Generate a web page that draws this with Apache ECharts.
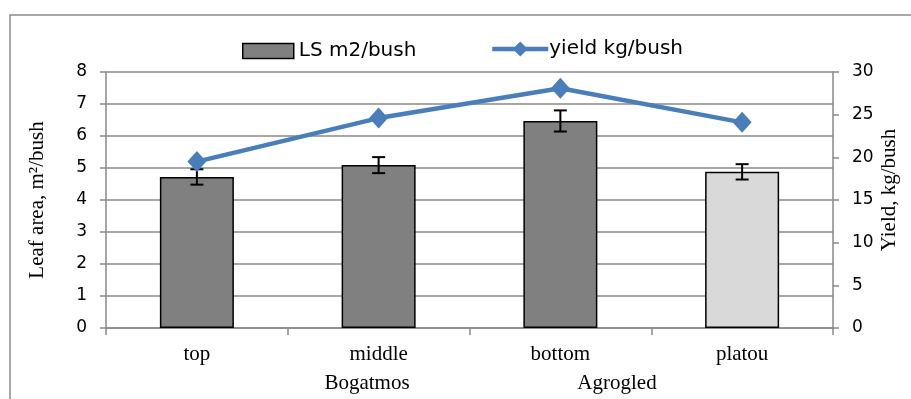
<!DOCTYPE html>
<html>
<head>
<meta charset="utf-8">
<script src="https://cdn.jsdelivr.net/npm/echarts@6/dist/echarts.min.js"></script>
<style>
  html, body { margin: 0; padding: 0; background: #fff; }
  #chart { width: 911px; height: 399px; }
</style>
</head>
<body>
<div id="chart"></div>
<script>
// Leaf area per bush (bars, left axis) and yield per bush (line, right axis)
const categories = ['top', 'middle', 'bottom', 'platou'];
const leafArea = [4.72, 5.09, 6.47, 4.88];
const leafAreaErr = [0.24, 0.25, 0.33, 0.24];
const yieldKg = [19.5, 24.6, 28.1, 24.1];
const barColors = ['#808080', '#808080', '#808080', '#d9d9d9'];
const leftTicks = { min: 0, max: 8, interval: 1 };
const rightTicks = { min: 0, max: 30, interval: 5 };

const sansFont = 'DejaVu Sans';
const serifFont = 'Liberation Serif';
const gridGray = '#898989';
const lineBlue = '#4a7ebb';

const chart = echarts.init(document.getElementById('chart'));

const barData = leafArea.map((v, i) => ({
  value: v,
  itemStyle: { color: barColors[i] }
}));

const errData = leafArea.map((v, i) => [i, v - leafAreaErr[i], v + leafAreaErr[i]]);

chart.setOption({
  animation: false,
  backgroundColor: '#fff',
  grid: { left: 106, right: 78, top: 72, bottom: 71, containLabel: false },
  legend: [
    {
      data: [{ name: 'LS m2/bush', icon: 'rect' }],
      left: 242, top: 41, padding: 0,
      itemWidth: 51, itemHeight: 15,
      itemStyle: { borderColor: '#000', borderWidth: 1.5 },
      textStyle: { fontFamily: sansFont, fontSize: 20, color: '#000', padding: [0, 0, 0, 0] }
    },
    {
      data: ['yield kg/bush'],
      left: 490, top: 39, padding: 0,
      itemWidth: 56, itemHeight: 19,
      lineStyle: { color: lineBlue, width: 4.5 },
      textStyle: { fontFamily: sansFont, fontSize: 20, color: '#000', padding: [0, 0, 0, -4] }
    }
  ],
  xAxis: {
    type: 'category',
    data: categories,
    axisLine: { lineStyle: { color: gridGray, width: 1.5 } },
    axisTick: { show: true, length: 7, lineStyle: { color: gridGray, width: 1.5 } },
    axisLabel: { margin: 16, fontFamily: serifFont, fontSize: 21, color: '#000' }
  },
  yAxis: [
    {
      type: 'value',
      min: leftTicks.min, max: leftTicks.max, interval: leftTicks.interval,
      name: 'Leaf area, m²/bush',
      nameLocation: 'middle',
      nameGap: 58,
      nameTextStyle: { fontFamily: serifFont, fontSize: 21, color: '#000' },
      axisLine: { show: true, lineStyle: { color: gridGray, width: 1.5 } },
      axisTick: { show: true, length: 6, lineStyle: { color: gridGray, width: 1.5 } },
      axisLabel: { margin: 19, fontFamily: sansFont, fontSize: 17, color: '#000' },
      splitLine: { show: true, lineStyle: { color: gridGray, width: 1.5 } }
    },
    {
      type: 'value',
      min: rightTicks.min, max: rightTicks.max, interval: rightTicks.interval,
      name: 'Yield, kg/bush',
      nameLocation: 'middle',
      nameGap: 46,
      nameMoveOverlap: false,
      nameTextStyle: { fontFamily: serifFont, fontSize: 21, color: '#000', padding: [0, 0, 0, 20] },
      axisLine: { show: true, lineStyle: { color: gridGray, width: 1.5 } },
      axisTick: { show: true, length: 6, lineStyle: { color: gridGray, width: 1.5 } },
      axisLabel: { margin: 19, fontFamily: sansFont, fontSize: 17, color: '#000' },
      splitLine: { show: false }
    }
  ],
  series: [
    {
      name: 'LS m2/bush',
      type: 'bar',
      yAxisIndex: 0,
      barWidth: 74,
      data: barData,
      itemStyle: { color: '#808080', borderColor: '#000', borderWidth: 1.5 },
      z: 2
    },
    {
      name: 'LS error',
      type: 'custom',
      yAxisIndex: 0,
      data: errData,
      encode: { x: 0, y: [1, 2] },
      z: 3,
      renderItem: function (params, api) {
        const x = api.value(0);
        const lo = api.coord([x, api.value(1)]);
        const hi = api.coord([x, api.value(2)]);
        const half = 6.5;
        const style = { stroke: '#000', lineWidth: 2 };
        return {
          type: 'group',
          children: [
            { type: 'line', shape: { x1: lo[0], y1: lo[1], x2: hi[0], y2: hi[1] }, style: style },
            { type: 'line', shape: { x1: lo[0] - half, y1: lo[1], x2: lo[0] + half, y2: lo[1] }, style: style },
            { type: 'line', shape: { x1: hi[0] - half, y1: hi[1], x2: hi[0] + half, y2: hi[1] }, style: style }
          ]
        };
      }
    },
    {
      name: 'yield kg/bush',
      type: 'line',
      yAxisIndex: 1,
      data: yieldKg,
      symbol: 'diamond',
      symbolSize: [19, 21],
      lineStyle: { color: lineBlue, width: 4.5 },
      itemStyle: { color: lineBlue },
      z: 4
    }
  ],
  graphic: [
    {
      type: 'rect',
      shape: { x: 10, y: 15, width: 910, height: 400 },
      style: { fill: 'none', stroke: '#8c8c8c', lineWidth: 1.5 },
      silent: true
    },
    {
      type: 'text',
      x: 367, y: 383,
      style: { text: 'Bogatmos', fontFamily: serifFont, fontSize: 21, fill: '#000', textAlign: 'center', textVerticalAlign: 'middle' }
    },
    {
      type: 'text',
      x: 617, y: 383,
      style: { text: 'Agrogled', fontFamily: serifFont, fontSize: 21, fill: '#000', textAlign: 'center', textVerticalAlign: 'middle' }
    }
  ]
});
</script>
</body>
</html>
